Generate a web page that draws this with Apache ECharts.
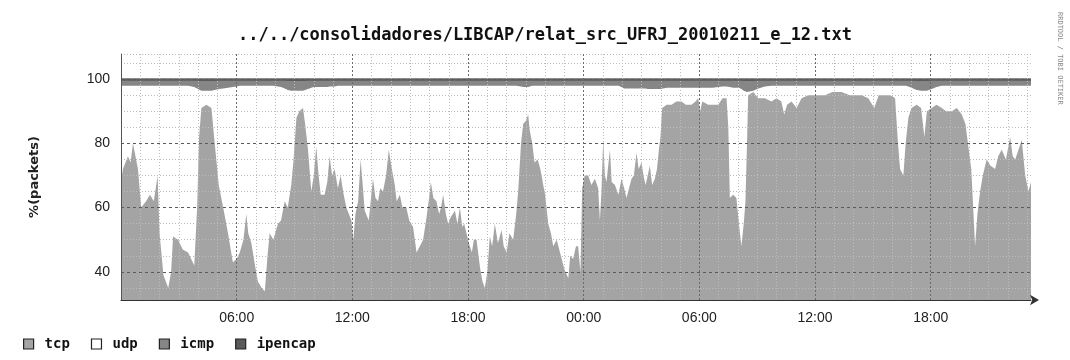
<!DOCTYPE html>
<html><head><meta charset="utf-8">
<script src="https://cdn.jsdelivr.net/npm/echarts@6/dist/echarts.min.js"></script>
<style>html,body{margin:0;padding:0;background:#fff}#c{width:1070px;height:360px}</style>
</head><body><div id="c"></div>
<script>
// time in hours from 00:00 of the first day
const hours = [
 0.0,0.1,0.36,0.5,0.62,0.75,0.88,1.05,1.3,1.5,
 1.7,1.9,2.0,2.2,2.45,2.6,2.7,2.96,3.2,3.48,
 3.8,3.95,4.05,4.17,4.43,4.69,4.86,5.07,5.3,5.55,
 5.8,6.0,6.16,6.35,6.5,6.6,6.76,6.95,7.1,7.3,
 7.46,7.6,7.71,7.9,8.14,8.3,8.49,8.65,8.83,8.95,
 9.1,9.25,9.44,9.55,9.7,9.87,10.0,10.13,10.25,10.36,
 10.56,10.7,10.82,10.95,11.08,11.25,11.39,11.55,11.69,11.95,
 12.05,12.16,12.3,12.43,12.55,12.64,12.85,12.95,13.07,13.2,
 13.33,13.45,13.59,13.75,13.89,14.05,14.2,14.3,14.46,14.6,
 14.8,14.95,15.15,15.33,15.5,15.67,15.85,16.0,16.07,16.2,
 16.36,16.5,16.6,16.71,16.85,16.97,17.1,17.32,17.45,17.58,
 17.7,17.8,18.04,18.2,18.3,18.44,18.63,18.75,18.87,19.0,
 19.13,19.25,19.39,19.55,19.74,19.85,20.0,20.15,20.34,20.5,
 20.6,20.75,20.86,21.0,21.12,21.2,21.33,21.45,21.61,21.75,
 21.9,22.0,22.16,22.3,22.42,22.6,22.77,22.99,23.2,23.3,
 23.45,23.6,23.71,23.83,23.92,24.05,24.23,24.4,24.58,24.75,
 24.84,24.92,25.01,25.1,25.18,25.36,25.45,25.62,25.8,25.96,
 26.1,26.22,26.35,26.48,26.6,26.74,26.85,27.0,27.1,27.21,
 27.32,27.43,27.55,27.69,27.8,27.9,27.98,28.07,28.3,28.56,
 28.8,29.07,29.3,29.59,29.8,29.94,30.04,30.15,30.46,30.7,
 30.98,31.2,31.41,31.5,31.58,31.75,31.92,32.05,32.18,32.3,
 32.39,32.47,32.53,32.8,33.05,33.4,33.74,34.0,34.25,34.4,
 34.55,34.78,35.04,35.3,35.64,36.0,36.51,36.9,37.37,37.8,
 38.41,38.76,39.07,39.3,39.63,39.9,40.15,40.3,40.41,40.58,
 40.7,40.84,41.0,41.27,41.5,41.67,41.8,42.05,42.3,42.57,
 42.8,43.09,43.35,43.61,43.8,43.95,44.1,44.3,44.42,44.56,
 44.7,44.9,45.1,45.34,45.5,45.68,45.9,46.12,46.25,46.38,
 46.55,46.72,46.9,47.07,47.2
];
const tcp = [
 68,72,76,74,80,76,72,60,62,64,
 62,70,52,39,35,40,51,50,47,46,
 42,60,82,91,92,91,80,67,60,52,
 43,44,46,50,58,52,49,42,37,35,
 34,45,52,50,55,56,62,60,67,75,
 88,90,91,86,78,65,70,79,70,64,
 64,68,76,70,72,66,70,64,60,56,
 50,58,62,75,66,59,56,62,69,63,
 62,66,65,70,78,72,67,62,64,60,
 60,56,54,46,48,50,57,64,68,63,
 62,58,60,64,58,55,57,59,55,60,
 54,55,49,46,50,50,41,37,35,40,
 51,48,55,49,53,48,46,52,50,58,
 65,80,86,87,89,84,80,74,75,72,
 67,64,55,52,48,50,46,41,38,45,
 44,48,48,40,66,70,70,67,69,66,
 56,65,81,70,68,78,68,67,64,69,
 66,63,66,69,70,77,72,74,70,67,
 70,73,67,69,72,78,82,91,92,92,
 93,93,92,92,93,94,90,93,92,92,
 92,94,94,85,63,64,63,55,48,55,
 62,80,95,96,94,94,93,94,93,89,
 92,93,91,94,95,95,95,96,96,95,
 95,94,91,95,95,95,94,80,72,70,
 80,88,91,92,91,82,90,91,92,91,
 90,90,91,89,86,79,72,48,58,65,
 70,75,73,72,76,78,75,82,76,75,
 78,81,70,65,68
];
const icmp = [
 1.6,1.6,1.6,1.6,1.6,1.6,1.6,1.6,1.6,1.6,
 1.6,1.6,1.6,1.6,1.6,1.6,1.6,1.6,1.6,1.6,
 2.0,2.4,2.8,3.0,3.0,3.0,2.8,2.6,2.4,2.2,
 2.0,1.8,1.6,1.6,1.6,1.6,1.6,1.6,1.6,1.6,
 1.6,1.6,1.6,1.6,1.8,2.0,2.4,2.8,3.0,3.0,
 3.0,3.0,3.0,2.8,2.6,2.2,2.0,2.0,2.0,2.0,
 2.0,2.0,1.8,1.8,1.8,1.6,1.6,1.6,1.6,1.6,
 1.6,1.6,1.6,1.6,1.6,1.6,1.6,1.6,1.6,1.6,
 1.6,1.6,1.6,1.6,1.6,1.6,1.6,1.6,1.6,1.6,
 1.6,1.6,1.6,1.6,1.6,1.6,1.6,1.6,1.6,1.6,
 1.6,1.6,1.6,1.6,1.6,1.6,1.6,1.6,1.6,1.6,
 1.6,1.6,1.6,1.6,1.6,1.6,1.6,1.6,1.6,1.6,
 1.6,1.6,1.6,1.6,1.6,1.6,1.6,1.6,1.6,1.6,
 1.6,1.8,2.0,2.0,2.0,1.8,1.6,1.6,1.6,1.6,
 1.6,1.6,1.6,1.6,1.6,1.6,1.6,1.6,1.6,1.6,
 1.6,1.6,1.6,1.6,1.6,1.6,1.6,1.6,1.6,1.6,
 1.6,1.6,1.6,1.6,1.6,1.6,1.6,1.6,1.6,2.0,
 2.4,2.4,2.4,2.4,2.4,2.4,2.4,2.4,2.4,2.4,
 2.6,2.6,2.6,2.6,2.6,2.6,2.6,2.4,2.2,2.2,
 2.2,2.2,2.2,2.2,2.2,2.2,2.2,2.2,2.2,2.2,
 2.0,1.8,1.8,1.8,2.0,2.2,2.2,2.2,2.6,3.0,
 3.2,3.4,3.4,3.0,2.4,1.8,1.6,1.6,1.6,1.6,
 1.6,1.6,1.6,1.6,1.6,1.6,1.6,1.6,1.6,1.6,
 1.6,1.6,1.6,1.6,1.6,1.6,1.6,1.6,1.6,1.6,
 1.6,1.8,2.2,2.8,3.0,3.0,3.0,2.6,2.0,1.6,
 1.6,1.6,1.6,1.6,1.6,1.6,1.6,1.6,1.6,1.6,
 1.6,1.6,1.6,1.6,1.6,1.6,1.6,1.6,1.6,1.6,
 1.6,1.6,1.6,1.6,1.6
];
const ipencap = [
 0.5,0.5,0.5,0.5,0.5,0.5,0.5,0.5,0.5,0.5,
 0.5,0.5,0.5,0.5,0.5,0.5,0.5,0.5,0.5,0.5,
 0.5,0.5,0.6,0.6,0.6,0.6,0.6,0.5,0.5,0.5,
 0.5,0.5,0.5,0.5,0.5,0.5,0.5,0.5,0.5,0.5,
 0.5,0.5,0.5,0.5,0.5,0.5,0.5,0.6,0.6,0.6,
 0.6,0.6,0.6,0.6,0.5,0.5,0.5,0.5,0.5,0.5,
 0.5,0.5,0.5,0.5,0.5,0.5,0.5,0.5,0.5,0.5,
 0.5,0.5,0.5,0.5,0.5,0.5,0.5,0.5,0.5,0.5,
 0.5,0.5,0.5,0.5,0.5,0.5,0.5,0.5,0.5,0.5,
 0.5,0.5,0.5,0.5,0.5,0.5,0.5,0.5,0.5,0.5,
 0.5,0.5,0.5,0.5,0.5,0.5,0.5,0.5,0.5,0.5,
 0.5,0.5,0.5,0.5,0.5,0.5,0.5,0.5,0.5,0.5,
 0.5,0.5,0.5,0.5,0.5,0.5,0.5,0.5,0.5,0.5,
 0.5,0.5,0.5,0.5,0.5,0.5,0.5,0.5,0.5,0.5,
 0.5,0.5,0.5,0.5,0.5,0.5,0.5,0.5,0.5,0.5,
 0.5,0.5,0.5,0.5,0.5,0.5,0.5,0.5,0.5,0.5,
 0.5,0.5,0.5,0.5,0.5,0.5,0.5,0.5,0.5,0.5,
 0.5,0.5,0.5,0.5,0.5,0.5,0.5,0.5,0.5,0.5,
 0.5,0.5,0.5,0.5,0.5,0.5,0.5,0.5,0.5,0.5,
 0.5,0.5,0.5,0.5,0.5,0.5,0.5,0.5,0.5,0.5,
 0.5,0.5,0.5,0.5,0.5,0.5,0.5,0.5,0.5,0.6,
 0.6,0.6,0.6,0.6,0.5,0.5,0.5,0.5,0.5,0.5,
 0.5,0.5,0.5,0.5,0.5,0.5,0.5,0.5,0.5,0.5,
 0.5,0.5,0.5,0.5,0.5,0.5,0.5,0.5,0.5,0.5,
 0.5,0.5,0.5,0.6,0.6,0.6,0.6,0.5,0.5,0.5,
 0.5,0.5,0.5,0.5,0.5,0.5,0.5,0.5,0.5,0.5,
 0.5,0.5,0.5,0.5,0.5,0.5,0.5,0.5,0.5,0.5,
 0.5,0.5,0.5,0.5,0.5
];
const seriesNames = ['tcp', 'udp', 'icmp', 'ipencap'];
const xMajorTicks = [6, 12, 18, 24, 30, 36, 42];
const xTickLabels = ['06:00', '12:00', '18:00', '00:00', '06:00', '12:00', '18:00'];
const xMinorTicks = [1,2,3,4,5,7,8,9,10,11,13,14,15,16,17,19,20,21,22,23,25,26,27,28,29,31,32,33,34,35,37,38,39,40,41,43,44,45,46,47];
const yMajorTicks = [40, 60, 80, 100];
const yMinorTicks = [35, 45, 50, 55, 65, 70, 75, 85, 90, 95, 105, 107.8];
const titleText = '../../consolidadores/LIBCAP/relat_src_UFRJ_20010211_e_12.txt';
const yName = '%(packets)';
const watermark = 'RRDTOOL / TOBI OETIKER';

// percentages add up to 100: udp is the remainder
const udp = tcp.map((v, i) => 100 - v - icmp[i] - ipencap[i]);
// cumulative tops of each band (drawn back to front, each filled to the axis bottom)
const cumTop = {
  tcp: tcp,
  udp: tcp.map((v, i) => v + udp[i]),
  icmp: tcp.map((v, i) => v + udp[i] + icmp[i]),
  ipencap: tcp.map((v, i) => v + udp[i] + icmp[i] + ipencap[i])
};
const pairs = arr => hours.map((h, i) => [h, arr[i]]);
const colors = { tcp: '#a4a4a4', udp: '#ffffff', icmp: '#868686', ipencap: '#5a5a5a' };

const chart = echarts.init(document.getElementById('c'), null, { renderer: 'canvas' });
const mono = 'DejaVu Sans Mono';
const drawOrder = ['ipencap', 'icmp', 'udp', 'tcp'];
chart.setOption({
  animation: false,
  backgroundColor: '#ffffff',
  title: {
    text: titleText, left: 540, top: 22, textAlign: 'center',
    textStyle: { fontFamily: mono, fontWeight: 'bold', fontSize: 17, color: '#111' }
  },
  grid: { left: 121, right: 39, top: 54, bottom: 60 },
  legend: {
    left: 18, top: 332, icon: 'rect', itemWidth: 10, itemHeight: 10, itemGap: 21,
    textStyle: { fontFamily: mono, fontWeight: 'bold', fontSize: 14, color: '#111', padding: [0, 0, 0, 6] },
    data: seriesNames.map(n => ({ name: n, itemStyle: { color: colors[n], borderColor: '#222', borderWidth: 1.2 } }))
  },
  xAxis: [
    {
      type: 'value', min: 0, max: 47.2, z: 5,
      axisLine: { show: true, lineStyle: { color: '#333', width: 1 }, symbol: ['none', 'arrow'], symbolSize: [8, 9], symbolOffset: [0, 8] },
      axisTick: { show: false, customValues: xMajorTicks },
      axisLabel: {
        customValues: xMajorTicks, margin: 11,
        formatter: v => xTickLabels[xMajorTicks.indexOf(v)] || '',
        fontFamily: 'Liberation Sans', fontSize: 14, color: '#222'
      },
      splitLine: { show: true, lineStyle: { color: '#6a6a6a', type: [2, 2], width: 1 } }
    },
    {
      type: 'value', min: 0, max: 47.2, z: 4,
      axisLine: { show: false }, axisLabel: { show: false },
      axisTick: { show: false, customValues: xMinorTicks },
      splitLine: { show: true, lineStyle: { color: '#bdbdbd', type: [1, 2], width: 1 } }
    }
  ],
  yAxis: [
    {
      type: 'value', min: 31.25, max: 107.8, z: 5,
      name: yName, nameLocation: 'middle', nameGap: 80, nameRotate: 90,
      nameTextStyle: { fontFamily: 'DejaVu Sans', fontWeight: 'bold', fontSize: 13, color: '#222' },
      axisLine: { show: true, lineStyle: { color: '#555', width: 1 } },
      axisTick: { show: false, customValues: yMajorTicks },
      axisLabel: { customValues: yMajorTicks, margin: 11, fontFamily: 'Liberation Sans', fontSize: 14, color: '#222' },
      splitLine: { show: true, lineStyle: { color: '#5a5a5a', type: [3, 3], width: 1 } }
    },
    {
      type: 'value', min: 31.25, max: 107.8, z: 4,
      axisLine: { show: false }, axisLabel: { show: false },
      axisTick: { show: false, customValues: yMinorTicks },
      splitLine: { show: true, lineStyle: { color: '#bdbdbd', type: [1, 2], width: 1 } }
    }
  ],
  series: drawOrder.map(n => ({
    name: n, type: 'line', showSymbol: false, symbol: 'none',
    xAxisIndex: 0, yAxisIndex: 0,
    data: pairs(cumTop[n]),
    itemStyle: { color: colors[n] },
    lineStyle: { width: n === 'ipencap' ? 1.5 : 0, color: n === 'ipencap' ? '#666' : colors[n] },
    areaStyle: { color: colors[n], opacity: 1, origin: 'start' },
    z: 2
  })),
  graphic: [{
    type: 'text', left: 1056, top: 12, rotation: -Math.PI / 2,
    style: { text: watermark, fontFamily: mono, fontSize: 7, fill: '#888' }
  }]
});
</script></body></html>
